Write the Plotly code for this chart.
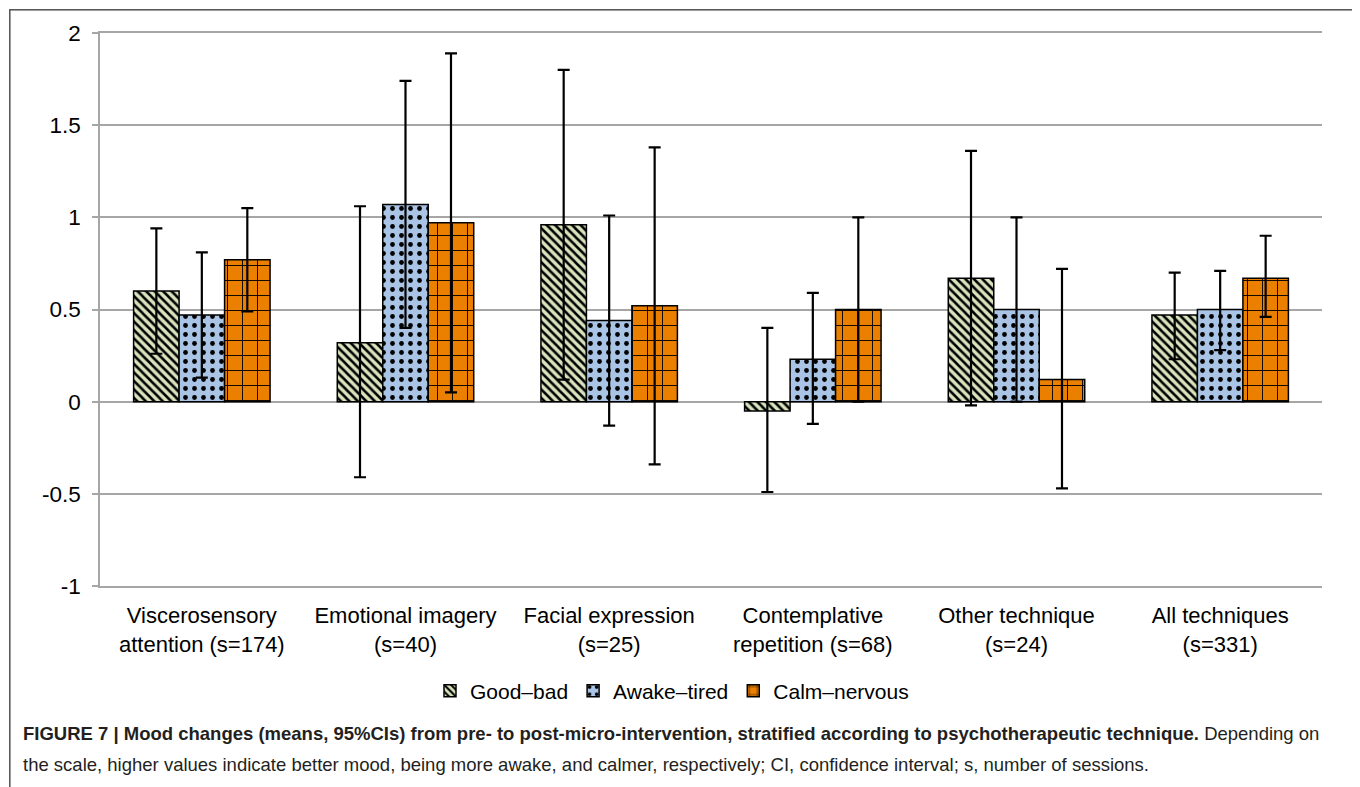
import plotly.graph_objects as go

categories = ["Viscerosensory<br>attention (s=174)", "Emotional imagery<br>(s=40)",
              "Facial expression<br>(s=25)", "Contemplative<br>repetition (s=68)",
              "Other technique<br>(s=24)", "All techniques<br>(s=331)"]

series_names = ["Good\u2013bad", "Awake\u2013tired", "Calm\u2013nervous"]

good_mean = [0.60, 0.32, 0.96, -0.05, 0.67, 0.47]
good_hi = [0.94, 1.06, 1.80, 0.40, 1.36, 0.70]
good_lo = [0.26, -0.41, 0.12, -0.49, -0.02, 0.23]

awake_mean = [0.47, 1.07, 0.44, 0.23, 0.50, 0.50]
awake_hi = [0.81, 1.74, 1.01, 0.59, 1.00, 0.71]
awake_lo = [0.13, 0.40, -0.13, -0.12, 0.00, 0.28]

calm_mean = [0.77, 0.97, 0.52, 0.50, 0.12, 0.67]
calm_hi = [1.05, 1.89, 1.38, 1.00, 0.72, 0.90]
calm_lo = [0.49, 0.05, -0.34, 0.00, -0.47, 0.46]

y_tickvals = [-1, -0.5, 0, 0.5, 1, 1.5, 2]
y_ticktext = ["-1", "-0.5", "0", "0.5", "1", "1.5", "2"]

FONT = "Liberation Sans, Arial, sans-serif"
GRID = "#a6a6a6"

# page has an 8px body margin; figure is sized to fit the window
W, H = 1352, 779
L, R, T, B = 92, 38, 25, 201
PW = W - L - R
PH = H - T - B


def px_x(x):
    return (x - 8 - L) / PW


def px_y(y):
    return (H - B - (y - 8)) / PH


styles = [
    dict(color="#d7e4bd", shape="\\", size=6, solidity=0.42),
    dict(color="#a9c4e5", shape=".", size=9, solidity=0.22),
    dict(color="#eb7f00", shape="+", size=15, solidity=0.12),
]

fig = go.Figure()
for name, mean, hi, lo, st in [
    (series_names[0], good_mean, good_hi, good_lo, styles[0]),
    (series_names[1], awake_mean, awake_hi, awake_lo, styles[1]),
    (series_names[2], calm_mean, calm_hi, calm_lo, styles[2]),
]:
    fig.add_trace(go.Bar(
        name=name, x=categories, y=mean,
        marker=dict(color=st["color"], line=dict(color="black", width=1.5),
                    pattern=dict(shape=st["shape"], fgcolor="black", bgcolor=st["color"],
                                 size=st["size"], solidity=st["solidity"], fillmode="replace")),
        error_y=dict(type="data", symmetric=False,
                     array=[h - m for h, m in zip(hi, mean)],
                     arrayminus=[m - l for m, l in zip(mean, lo)],
                     color="black", thickness=2.2, width=6),
    ))

fig.update_layout(
    width=W, height=H,
    margin=dict(l=L, r=R, t=T, b=B),
    paper_bgcolor="white", plot_bgcolor="white",
    barmode="group", bargap=0.33, bargroupgap=0,
    font=dict(family=FONT, size=22, color="black"),
    showlegend=True,
    legend=dict(orientation="h", x=px_x(672), xanchor="center", y=px_y(691), yanchor="middle",
                font=dict(size=21, family=FONT), tracegroupgap=0),
    xaxis=dict(showgrid=False, showline=True, mirror=True, linecolor=GRID, linewidth=1.6,
               ticks="", ticklabelstandoff=9,
               tickfont=dict(size=22, family=FONT, color="black")),
    yaxis=dict(range=[-1, 2], tickvals=y_tickvals, ticktext=y_ticktext,
               showgrid=True, gridcolor=GRID, gridwidth=1.6,
               zeroline=False, showline=True, linecolor=GRID, linewidth=1.6,
               ticks="outside", ticklen=6, tickcolor=GRID, tickwidth=1.6,
               ticklabelstandoff=7,
               tickfont=dict(size=22.5, family=FONT, color="black")),
)

# outer frame: drawn as an empty bordered annotation box
fig.add_annotation(
    xref="paper", yref="paper", x=px_x(9), y=px_y(9),
    xanchor="left", yanchor="top", showarrow=False, text=" ",
    width=1343, height=800, borderwidth=1.6, bordercolor="#5a5a5a", borderpad=0,
    bgcolor="rgba(0,0,0,0)")

fig.add_annotation(
    xref="paper", yref="paper", x=px_x(21), y=px_y(733),
    xanchor="left", yanchor="middle", showarrow=False, align="left",
    text="<b>FIGURE 7 | Mood changes (means, 95%CIs) from pre- to post-micro-intervention, stratified according to psychotherapeutic technique.</b> Depending on",
    font=dict(family=FONT, size=18.5, color="#231f20"))
fig.add_annotation(
    xref="paper", yref="paper", x=px_x(21), y=px_y(764),
    xanchor="left", yanchor="middle", showarrow=False, align="left",
    text="the scale, higher values indicate better mood, being more awake, and calmer, respectively; CI, confidence interval; s, number of sessions.",
    font=dict(family=FONT, size=18.5, color="#231f20"))

fig.write_html("out.html")
